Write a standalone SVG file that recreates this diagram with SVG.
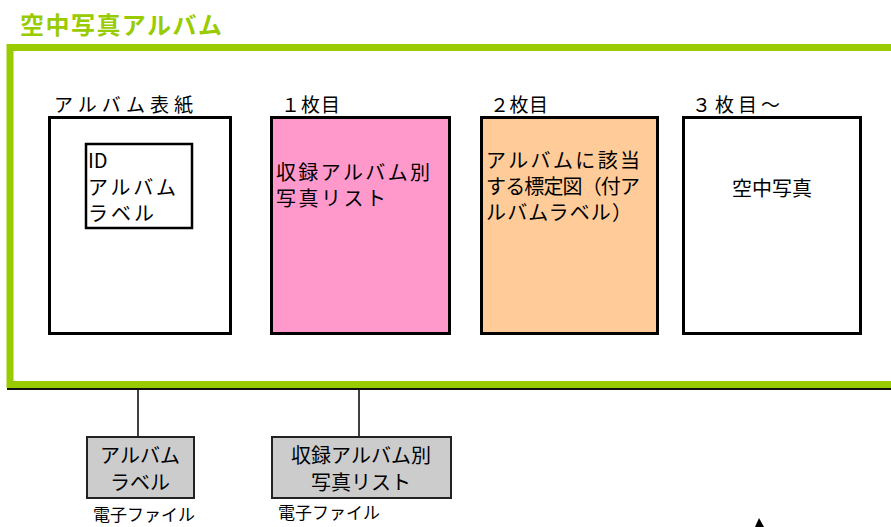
<svg xmlns="http://www.w3.org/2000/svg" width="891" height="527" viewBox="0 0 891 527">
<style>
.t{font-family:"Noto Sans CJK JP","Noto Sans",sans-serif;font-size:20px;fill:#000}
.s{font-family:"Liberation Serif","Noto Sans CJK JP",serif;font-size:19px;fill:#000}
.f{font-family:"Noto Sans CJK JP","Noto Sans",sans-serif;font-size:17px;fill:#000}
.page{stroke:#000;stroke-width:3}
.gb{fill:#cccccc;stroke:#222;stroke-width:2}
.ln{stroke:#000;stroke-width:1.5;fill:none}
</style>
<rect width="891" height="527" fill="#fff"/>
<g id="title">
<text x="20" y="34" font-family="Noto Sans CJK JP, sans-serif" font-weight="bold" font-size="24" fill="#99cc00" textLength="202">空中写真アルバム</text>
</g>
<g id="frame">
<line x1="7" y1="389" x2="891" y2="389" stroke="#111" stroke-width="2"/>
<rect x="10" y="47.5" width="900" height="337" fill="none" stroke="#99cc00" stroke-width="7"/>
</g>
<g id="cover">
<text class="s" x="54" y="112" textLength="139">アルバム表紙</text>
<rect class="page" x="49.5" y="117.5" width="181" height="216" fill="#fff"/>
<g id="idlabel">
<rect x="86" y="144" width="106" height="84" fill="#fff" stroke="#000" stroke-width="2.5"/>
<text class="t" x="88" y="168">ID</text>
<text class="t" x="88" y="195" textLength="88">アルバム</text>
<text class="t" x="88" y="221" textLength="66">ラベル</text>
</g>
</g>
<g id="page1">
<text class="s" x="281" y="112" textLength="59">１枚目</text>
<rect class="page" x="271.5" y="117.5" width="178" height="216" fill="#ff99cc"/>
<text class="t" x="276" y="180" textLength="154">収録アルバム別</text>
<text class="t" x="276" y="206" textLength="110">写真リスト</text>
</g>
<g id="page2">
<text class="s" x="490" y="112" textLength="58">２枚目</text>
<rect class="page" x="481.5" y="117.5" width="176" height="216" fill="#ffcc99"/>
<text class="t" x="486" y="168" textLength="154">アルバムに該当</text>
<text class="t" x="486" y="194" textLength="154">する標定図（付ア</text>
<text class="t" x="486" y="220" textLength="146">ルバムラベル）</text>
</g>
<g id="page3">
<text class="s" x="692" y="112" textLength="88">３枚目～</text>
<rect class="page" x="683.5" y="117.5" width="177" height="216" fill="#fff"/>
<text class="t" x="772" y="196" text-anchor="middle" font-size="22">空中写真</text>
</g>
<g id="connectors">
<line class="ln" x1="138" y1="390" x2="138" y2="437"/>
<line class="ln" x1="359" y1="390" x2="359" y2="437"/>
<polygon points="759,518 755,527 764,527" fill="#000"/>
</g>
<g id="file1">
<rect class="gb" x="87" y="437" width="107" height="61"/>
<text class="t" x="140" y="463" text-anchor="middle" font-size="21">アルバム</text>
<text class="t" x="140" y="490" text-anchor="middle" font-size="21">ラベル</text>
<text class="f" x="93" y="521">電子ファイル</text>
</g>
<g id="file2">
<rect class="gb" x="272" y="437" width="179" height="61"/>
<text class="t" x="361" y="463" text-anchor="middle" font-size="21">収録アルバム別</text>
<text class="t" x="361" y="490" text-anchor="middle" font-size="21">写真リスト</text>
<text class="f" x="278" y="519">電子ファイル</text>
</g>
</svg>
